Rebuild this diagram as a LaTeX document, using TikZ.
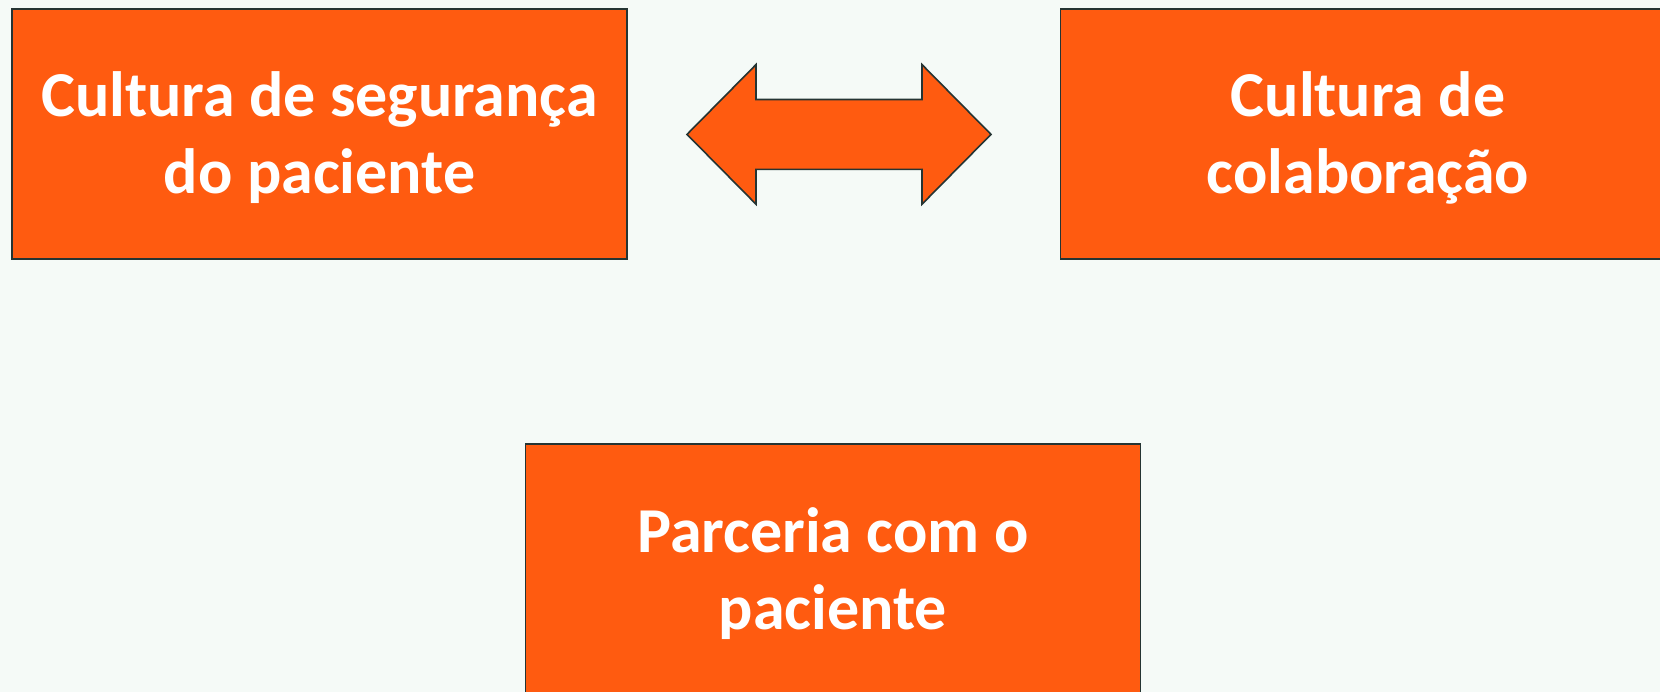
\documentclass[tikz,border=0pt]{standalone}
\usepackage{fontspec}
\setmainfont{Carlito}
\definecolor{bg}{HTML}{F5FAF7}
\definecolor{orng}{HTML}{FF5B10}
\definecolor{edge}{HTML}{253433}
\begin{document}
\begin{tikzpicture}[x=1pt,y=1pt,
  box/.style={draw=edge, line width=1.6pt, fill=orng, rectangle, inner sep=0pt,
    minimum width=615pt, minimum height=250pt},
  txt/.style={inner sep=0pt, align=center, text=white,
    font=\fontsize{64}{77}\selectfont\bfseries},
  dblarrow/.style={draw=edge, line width=1.6pt, fill=orng, line join=miter}]
\fill[bg] (0,0) rectangle (1660,-692);
\useasboundingbox (0,0) rectangle (1660,-692);
\node[box] (b1) at (319.5,-134) {};
\node[box] (b2) at (1368,-134) {};
\node[box, minimum height=252pt] (b3) at (833,-570) {};
\node[txt] (t1) at ([yshift=-4pt]b1.center) {Cultura de segurança\\do paciente};
\node[txt] (t2) at ([yshift=-4pt]b2.center) {Cultura de\\colaboração};
\node[txt] (t3) at ([yshift=-4pt]b3.center) {Parceria com o\\paciente};
\draw[dblarrow] (687,-134.4) -- (756,-64.6) -- (756,-99.5) -- (922,-99.5) -- (922,-64.6)
  -- (991,-134.4) -- (922,-204.2) -- (922,-169.4) -- (756,-169.4) -- (756,-204.2) -- cycle;
\end{tikzpicture}
\end{document}
